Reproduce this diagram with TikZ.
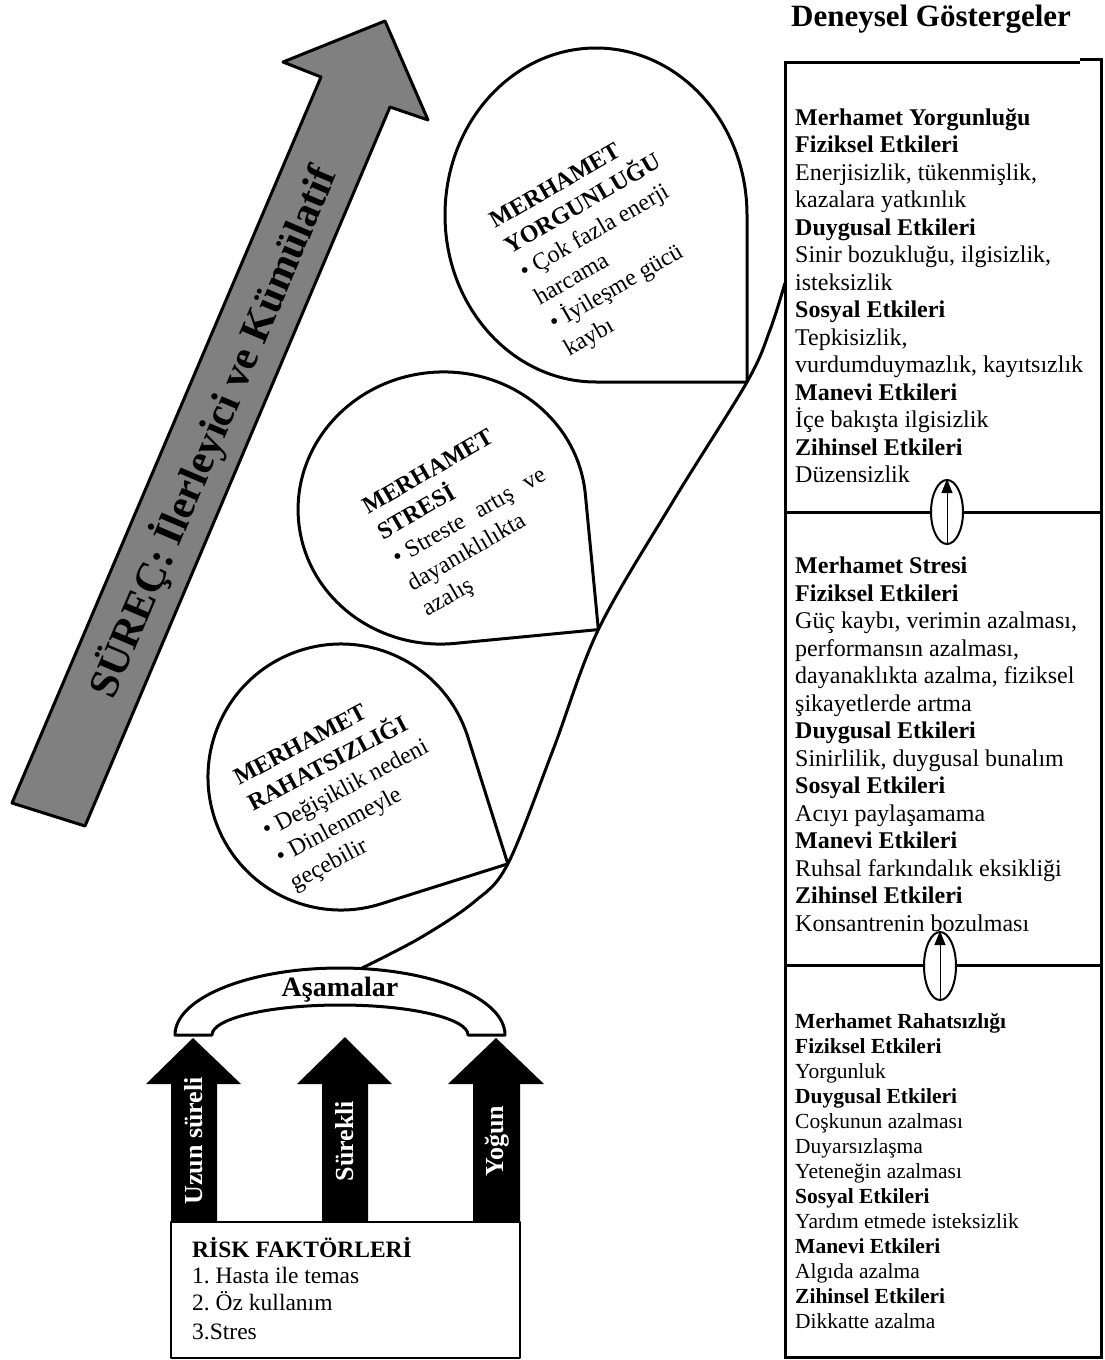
\documentclass[tikz,border=0pt]{standalone}
\usepackage{fontspec}
\setmainfont{Liberation Serif}
\usetikzlibrary{arrows.meta,shapes.geometric,backgrounds}
\frenchspacing

\definecolor{surecgri}{RGB}{128,128,128}

\tikzset{
  kalin/.style={black, line width=3pt, line join=round},
  damla/.style={kalin, fill=white},
  damlayazi/.style={align=left, inner sep=0pt, font=\fontsize{24}{29.5}\selectfont},
  kutuyazi/.style={align=left, anchor=north west, inner sep=0pt, font=\fontsize{24}{27.5}\selectfont},
  kucukyazi/.style={align=left, anchor=north west, inner sep=0pt, font=\fontsize{21.5}{25}\selectfont},
  okyazi/.style={white, rotate=90, inner sep=0pt, font=\bfseries\fontsize{26}{30}\selectfont},
  gecis/.style={ellipse, draw, line width=2pt, fill=white, minimum width=32pt, minimum height=64pt, inner sep=0pt},
  inceok/.style={line width=1pt, -{Triangle[length=14pt,width=11pt]}}
}

\begin{document}
\begin{tikzpicture}[x=1pt, y=-1pt]
\useasboundingbox (0,0) rectangle (1104,1360) ;

%%%----------Süreç oku----------%%%
\draw [kalin, fill=surecgri] (12,803) -- (321,77) -- (283,62) -- (385,21) -- (428,120) -- (390,107) -- (85,826) -- cycle ;
\node (surec) [rotate=67, font=\bfseries\fontsize{42}{46}\selectfont] at (213,432) {SÜREÇ: İlerleyici ve Kümülatif} ;

%%%----------Damla: Merhamet Yorgunluğu----------%%%
\begin{scope}[shift={(596,215)}]
\draw [damla] (0,167) arc [start angle=90, end angle=360, x radius=151, y radius=167] -- (151,167) -- cycle ;
\coordinate (yorg uc) at (151,167) ;
\end{scope}
\node (yorg) [damlayazi, rotate=30] at (606,244) {\textbf{MERHAMET}\\ \textbf{YORGUNLUĞU}\\ • Çok fazla enerji\\ harcama\\ • İyileşme gücü\\ kaybı} ;

%%%----------Damla: Merhamet Stresi----------%%%
\begin{scope}[shift={(442,508)}, rotate=5.5]
\draw [damla] (0,136) arc [start angle=90, end angle=360, x radius=144, y radius=136] -- (144,136) -- cycle ;
\coordinate (stres uc) at (144,136) ;
\end{scope}
\node (stres) [damlayazi, rotate=30] at (470,518) {\textbf{MERHAMET}\\ \textbf{STRESİ}\\ • Streste\hspace{0.35em} artış\hspace{0.35em} ve\\ dayanıklılıkta\\ azalış} ;

%%%----------Damla: Merhamet Rahatsızlığı----------%%%
\begin{scope}[shift={(341,777)}, rotate=17.5]
\draw [damla] (0,133) arc [start angle=90, end angle=360, x radius=133, y radius=133] -- (133,133) -- cycle ;
\coordinate (rahat uc) at (133,133) ;
\end{scope}
\node (rahat) [damlayazi, rotate=28] at (346,790) {\textbf{MERHAMET}\\ \textbf{RAHATSIZLIĞI}\\ • Değişiklik nedeni\\ • Dinlenmeyle\\ geçebilir} ;

%%%----------Aşamalar kemeri----------%%%
\coordinate (kemer tepe) at (362,968) ;
\coordinate (kutu giris) at (785,283) ;
\begin{pgfonlayer}{background}
\draw [kalin] plot [smooth, tension=0.55] coordinates {(kemer tepe) (420,938) (474,902) (rahat uc) (553,750) (stres uc) (672,503) (yorg uc) (770,330) (kutu giris)} ;
\end{pgfonlayer}
\draw [kalin, fill=white] (175,1035) arc [start angle=180, end angle=360, x radius=165, y radius=67] -- (468,1035) arc [start angle=0, end angle=-180, x radius=128, y radius=30] -- cycle ;
\node (asamalar) [font=\bfseries\fontsize{28}{32}\selectfont] at (340,990) {Aşamalar} ;

%%%----------Risk okları----------%%%
\fill [black] (171,1222) -- (171,1084) -- (146,1084) -- (193,1038) -- (241,1084) -- (217,1084) -- (217,1222) -- cycle ;
\fill [black] (322,1222) -- (322,1084) -- (297,1084) -- (345,1037) -- (392,1084) -- (368,1084) -- (368,1222) -- cycle ;
\fill [black] (473,1222) -- (473,1084) -- (448,1084) -- (496,1038) -- (544,1084) -- (520,1084) -- (520,1222) -- cycle ;
\node (uzun) [okyazi] at (194,1141) {Uzun süreli} ;
\node (surekli) [okyazi] at (345,1141) {Sürekli} ;
\node (yogun) [okyazi] at (497,1141) {Yoğun} ;

%%%----------Risk faktörleri----------%%%
\draw [kalin, line width=2.5pt, fill=white] (171,1222) rectangle (520,1358) ;
\node (risk) [align=left, anchor=north west, inner sep=0pt, font=\fontsize{23.5}{26.5}\selectfont] at (192,1237) {\textbf{RİSK FAKTÖRLERİ}\\ 1. Hasta ile temas\\ 2. Öz kullanım\\[3pt] 3.Stres} ;

%%%----------Deneysel göstergeler----------%%%
\node (baslik) [font=\bfseries\fontsize{31}{36}\selectfont] at (931,19) {Deneysel Göstergeler} ;
\draw [kalin, line join=miter] (1080,62) -- (785,62) -- (785,1357) -- (1101,1357) -- (1101,59) -- (1080,59) ;
\draw [kalin] (785,512) -- (1101,512) ;
\draw [kalin] (785,965) -- (1101,965) ;

\node (yorg kutu) [kutuyazi] at (795,108) {\textbf{Merhamet Yorgunluğu}\\ \textbf{Fiziksel Etkileri}\\ Enerjisizlik, tükenmişlik,\\ kazalara yatkınlık\\ \textbf{Duygusal Etkileri}\\ Sinir bozukluğu, ilgisizlik,\\ isteksizlik\\ \textbf{Sosyal Etkileri}\\ Tepkisizlik,\\ vurdumduymazlık, kayıtsızlık\\ \textbf{Manevi Etkileri}\\ İçe bakışta ilgisizlik\\ \textbf{Zihinsel Etkileri}\\ Düzensizlik} ;

\node (stres kutu) [kutuyazi] at (795,557) {\textbf{Merhamet Stresi}\\ \textbf{Fiziksel Etkileri}\\ Güç kaybı, verimin azalması,\\ performansın azalması,\\ dayanaklıkta azalma, fiziksel\\ şikayetlerde artma\\ \textbf{Duygusal Etkileri}\\ Sinirlilik, duygusal bunalım\\ \textbf{Sosyal Etkileri}\\ Acıyı paylaşamama\\ \textbf{Manevi Etkileri}\\ Ruhsal farkındalık eksikliği\\ \textbf{Zihinsel Etkileri}\\ Konsantrenin bozulması} ;

\node (rahat kutu) [kucukyazi] at (795,1013) {\textbf{Merhamet Rahatsızlığı}\\ \textbf{Fiziksel Etkileri}\\ Yorgunluk\\ \textbf{Duygusal Etkileri}\\ Coşkunun azalması\\ Duyarsızlaşma\\ Yeteneğin azalması\\ \textbf{Sosyal Etkileri}\\ Yardım etmede isteksizlik\\ \textbf{Manevi Etkileri}\\ Algıda azalma\\ \textbf{Zihinsel Etkileri}\\ Dikkatte azalma} ;

%%%----------Geçiş okları----------%%%
\node (gecis ust) [gecis] at (947,512) {} ;
\draw [inceok] (gecis ust.south) -- (gecis ust.north) ;
\node (gecis alt) [gecis, minimum height=68pt] at (940,966) {} ;
\draw [inceok] (gecis alt.south) -- (gecis alt.north) ;

\end{tikzpicture}
\end{document}
